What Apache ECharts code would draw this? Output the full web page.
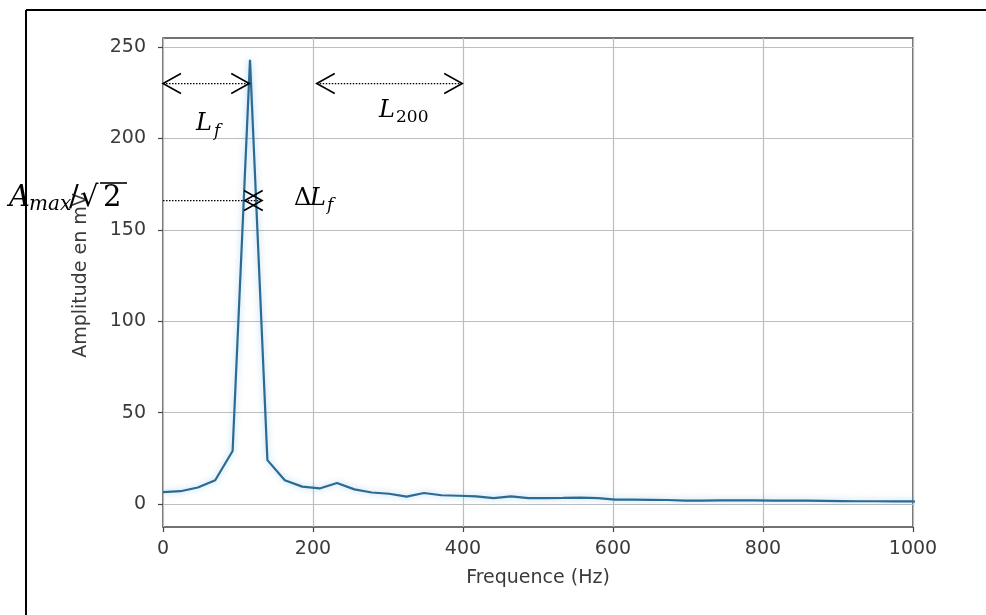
<!DOCTYPE html>
<html>
<head>
<meta charset="utf-8">
<script src="https://cdn.jsdelivr.net/npm/echarts@6/dist/echarts.min.js"></script>
<style>
  html, body { margin: 0; padding: 0; background: #ffffff; }
  #chart { width: 986px; height: 615px; }
</style>
</head>
<body>
<div id="chart"></div>
<script>
// ---- data ----
const frequencies = [0, 23.2, 46.4, 69.6, 92.8, 116, 139.2, 162.4, 185.6, 208.8, 232, 255.2, 278.4, 301.6, 324.8, 348,
  371.2, 394.4, 417.6, 440.8, 464, 487.2, 510.4, 533.6, 556.8, 580, 603.2, 626.4, 649.6, 672.8, 696, 719.2, 742.4,
  765.6, 788.8, 812, 835.2, 858.4, 881.6, 904.8, 928, 951.2, 974.4, 997.6, 1020.8];
const amplitudes = [6.5, 7, 9, 13, 29, 243, 24, 13, 9.5, 8.5, 11.5, 8, 6.3, 5.6, 4, 6,
  4.8, 4.5, 4.2, 3.2, 4.2, 3.2, 3.2, 3.3, 3.5, 3.2, 2.4, 2.4, 2.3, 2.2, 1.9, 1.9, 2,
  2, 2, 1.9, 1.8, 1.8, 1.7, 1.6, 1.5, 1.5, 1.4, 1.4, 1.3];
const xTicks = [0, 200, 400, 600, 800, 1000];
const yTicks = [0, 50, 100, 150, 200, 250];
// annotation arrows in data units: [xStart, xEnd, y, withHeads]
const annotLines = [[0, 115, 230, 1], [205, 399, 230, 1], [0, 110, 166, 0], [109, 132, 166, 1]];

const xName = 'Frequence (Hz)';
const yName = 'Amplitude en mV';

// ---- chart ----
const chart = echarts.init(document.getElementById('chart'), null, { renderer: 'canvas' });
const tickFont = { fontFamily: 'DejaVu Sans', fontSize: 19, color: '#3a3a3a' };
const serif = 'DejaVu Serif';

const seriesData = frequencies.map((f, i) => [f, amplitudes[i]]);

function renderAnnot(params, api) {
  const x1 = api.value(0), x2 = api.value(1), y = api.value(2), heads = api.value(3);
  const p1 = api.coord([x1, y]);
  const p2 = api.coord([x2, y]);
  const children = [{
    type: 'line',
    shape: { x1: p1[0], y1: p1[1], x2: p2[0], y2: p2[1] },
    style: { stroke: '#000', lineWidth: 1.2, lineDash: [1.5, 1.5] }
  }];
  if (heads) {
    const L = 18, H = 10;
    children.push({
      type: 'polyline',
      shape: { points: [[p1[0] + L, p1[1] - H], [p1[0], p1[1]], [p1[0] + L, p1[1] + H]] },
      style: { stroke: '#000', lineWidth: 1.6, fill: null }
    });
    children.push({
      type: 'polyline',
      shape: { points: [[p2[0] - L, p2[1] - H], [p2[0], p2[1]], [p2[0] - L, p2[1] + H]] },
      style: { stroke: '#000', lineWidth: 1.6, fill: null }
    });
  }
  return { type: 'group', children: children };
}

function t(text, x, y, size, italic) {
  return {
    type: 'text', x: x, y: y, z: 100,
    style: {
      text: text, fontFamily: serif, fontSize: size, fontStyle: italic ? 'italic' : 'normal',
      fill: '#000', verticalAlign: 'middle', align: 'left'
    }
  };
}

const option = {
  animation: false,
  backgroundColor: '#ffffff',
  grid: [
    { left: 163, right: 73, top: 47, bottom: 111, containLabel: false },
    { left: 163, right: 73, top: 38, bottom: 88, containLabel: false, show: true,
      borderColor: '#444', borderWidth: 1.5, backgroundColor: 'transparent' }
  ],
  xAxis: [
    { gridIndex: 0, type: 'value', min: 0, max: 1000, show: false },
    { gridIndex: 1, type: 'value', min: xTicks[0], max: xTicks[xTicks.length - 1], interval: 200,
      name: xName, nameLocation: 'middle', nameGap: 42,
      nameTextStyle: { fontFamily: 'DejaVu Sans', fontSize: 19, color: '#3a3a3a' },
      axisLine: { show: false },
      axisTick: { show: true, inside: false, length: 5, lineStyle: { color: '#444', width: 1.2 } },
      axisLabel: Object.assign({ margin: 13, formatter: v => String(v) }, tickFont),
      splitLine: { show: true, lineStyle: { color: '#bdbdbd', width: 1.2 } }
    }
  ],
  yAxis: [
    { gridIndex: 0, type: 'value', min: yTicks[0], max: yTicks[yTicks.length - 1], interval: 50,
      name: yName, nameLocation: 'middle', nameGap: 72, nameRotate: 90,
      nameTextStyle: { fontFamily: 'DejaVu Sans', fontSize: 19, color: '#3a3a3a' },
      axisLine: { show: false },
      axisTick: { show: true, inside: false, length: 5, lineStyle: { color: '#444', width: 1.2 } },
      axisLabel: Object.assign({ margin: 17, formatter: v => String(v) }, tickFont),
      splitLine: { show: true, lineStyle: { color: '#bdbdbd', width: 1.2 } }
    },
    { gridIndex: 1, type: 'value', min: 0, max: 1, show: false }
  ],
  series: [
    {
      type: 'line', xAxisIndex: 0, yAxisIndex: 0, data: seriesData,
      showSymbol: false, symbol: 'none', clip: true,
      lineStyle: { color: '#2d6a92', width: 2.2, shadowColor: 'rgba(90,170,225,0.55)', shadowBlur: 6 },
      z: 5
    },
    {
      type: 'custom', xAxisIndex: 0, yAxisIndex: 0, data: annotLines,
      renderItem: renderAnnot, clip: false, silent: true, z: 10
    }
  ],
  graphic: [
    // outer frame
    { type: 'line', shape: { x1: 26, y1: 10, x2: 986, y2: 10 }, style: { stroke: '#000', lineWidth: 2 }, z: 100 },
    { type: 'line', shape: { x1: 26, y1: 10, x2: 26, y2: 615 }, style: { stroke: '#000', lineWidth: 2 }, z: 100 },
    // L_f
    t('L', 196, 124, 24, true),
    t('f', 214, 132, 17, true),
    // L_200
    t('L', 379, 111, 24, true),
    t('200', 396, 118, 17, false),
    // A_max / sqrt(2)
    t('A', 9, 198, 29, true),
    t('max', 29, 205, 20, true),
    t('/', 69, 198, 29, false),
    t('\u221A', 80, 198, 29, false),
    t('2', 103, 198, 29, false),
    { type: 'line', shape: { x1: 100, y1: 183, x2: 127, y2: 183 }, style: { stroke: '#000', lineWidth: 1.6 }, z: 100 },
    // Delta L_f
    t('\u0394', 294, 199, 24, false),
    t('L', 310, 199, 24, true),
    t('f', 327, 206, 17, true)
  ]
};
chart.setOption(option);
</script>
</body>
</html>
